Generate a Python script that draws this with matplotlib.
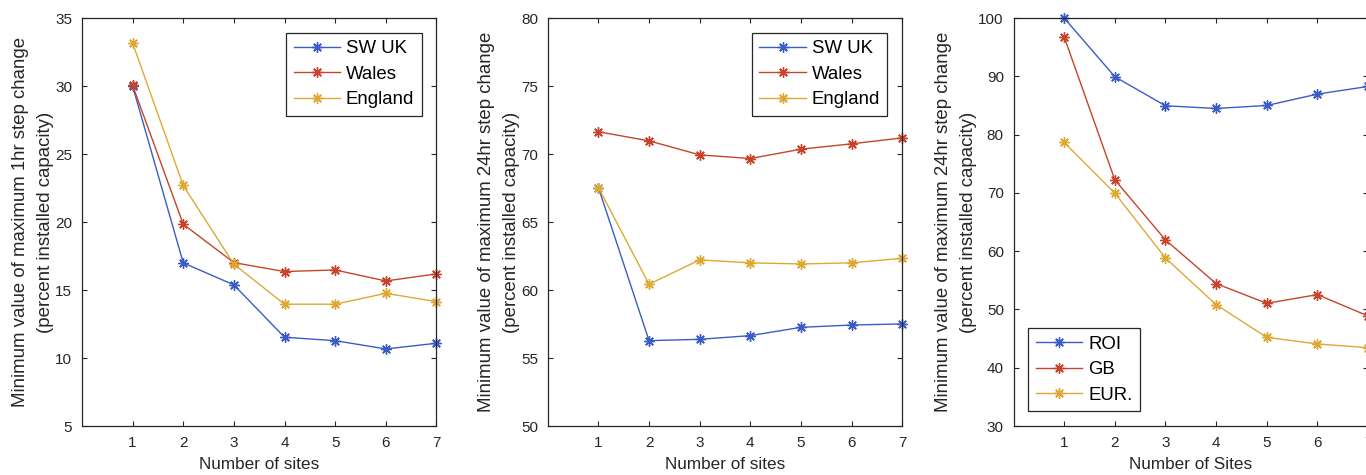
import matplotlib
matplotlib.use("Agg")
import matplotlib.pyplot as plt

plt.rcParams['font.family'] = ['Liberation Sans', 'DejaVu Sans']

sites = [1, 2, 3, 4, 5, 6, 7]

# 1hr step change
sw_1h = [30.0, 17.0, 15.38, 11.53, 11.28, 10.67, 11.09]
wales_1h = [30.05, 19.84, 17.02, 16.36, 16.48, 15.67, 16.19]
england_1h = [33.16, 22.69, 16.9, 13.96, 13.96, 14.76, 14.15]

# 24hr step change, UK regions
sw_24h = [67.54, 56.28, 56.38, 56.65, 57.26, 57.43, 57.51]
wales_24h = [71.64, 70.97, 69.94, 69.67, 70.36, 70.75, 71.19]
england_24h = [67.54, 60.43, 62.22, 62.0, 61.92, 62.0, 62.34]

# 24hr step change, larger areas
roi_24h = [100.0, 89.93, 84.95, 84.49, 85.0, 86.95, 88.27]
gb_24h = [96.74, 72.24, 61.94, 54.44, 51.06, 52.55, 48.89]
eur_24h = [78.65, 69.95, 58.84, 50.83, 45.22, 44.08, 43.45]

c_blue = '#3A5CC6'
c_red = '#C7432B'
c_yel = '#DDA934'

fig = plt.figure(figsize=(13.66, 4.75), dpi=100)

w, h, b = 0.2595, 0.859, 0.103
ax1 = fig.add_axes([0.060, b, w, h])
ax2 = fig.add_axes([0.401, b, w, h])
ax3 = fig.add_axes([0.742, b, w, h])


def style(ax, ylim, yticks, ylab, xlab):
    ax.set_xlim(0, 7)
    ax.set_ylim(*ylim)
    ax.set_xticks(sites)
    ax.set_yticks(yticks)
    ax.tick_params(direction='in', top=True, right=True, labelsize=11,
                   length=3.5, width=0.8, colors='#262626', pad=7)
    for s in ax.spines.values():
        s.set_linewidth(0.9)
        s.set_color('#262626')
    ax.set_ylabel(ylab, fontsize=13.4, color='#262626', labelpad=1,
                  linespacing=1.6)
    ax.set_xlabel(xlab, fontsize=12.3, color='#262626', labelpad=5)


def draw(ax, series, labels):
    for ys, lab, c in zip(series, labels, [c_blue, c_red, c_yel]):
        ax.plot(sites, ys, color=c, marker=(8, 2, 0), markersize=7.5, mew=1,
                lw=1, label=lab, clip_on=False)


draw(ax1, [sw_1h, wales_1h, england_1h], ['SW UK', 'Wales', 'England'])
style(ax1, (5, 35), range(5, 36, 5),
      'Minimum value of maximum 1hr step change\n(percent installed capacity)',
      'Number of sites')

draw(ax2, [sw_24h, wales_24h, england_24h], ['SW UK', 'Wales', 'England'])
style(ax2, (50, 80), range(50, 81, 5),
      'Minimum value of maximum 24hr step change\n(percent installed capacity)',
      'Number of sites')

draw(ax3, [roi_24h, gb_24h, eur_24h], ['ROI', 'GB', 'EUR.'])
style(ax3, (30, 100), range(30, 101, 10),
      'Minimum value of maximum 24hr step change\n(percent installed capacity)',
      'Number of Sites')

for ax, loc in [(ax1, 'upper right'), (ax2, 'upper right'), (ax3, 'lower left')]:
    leg = ax.legend(loc=loc, fontsize=13.4, fancybox=False, framealpha=1,
                    edgecolor='#262626', handlelength=2.5, borderaxespad=0.8,
                    labelspacing=0.45, handletextpad=0.3, borderpad=0.4)
    leg.get_frame().set_linewidth(0.9)

fig.savefig('out.png', dpi=100)
